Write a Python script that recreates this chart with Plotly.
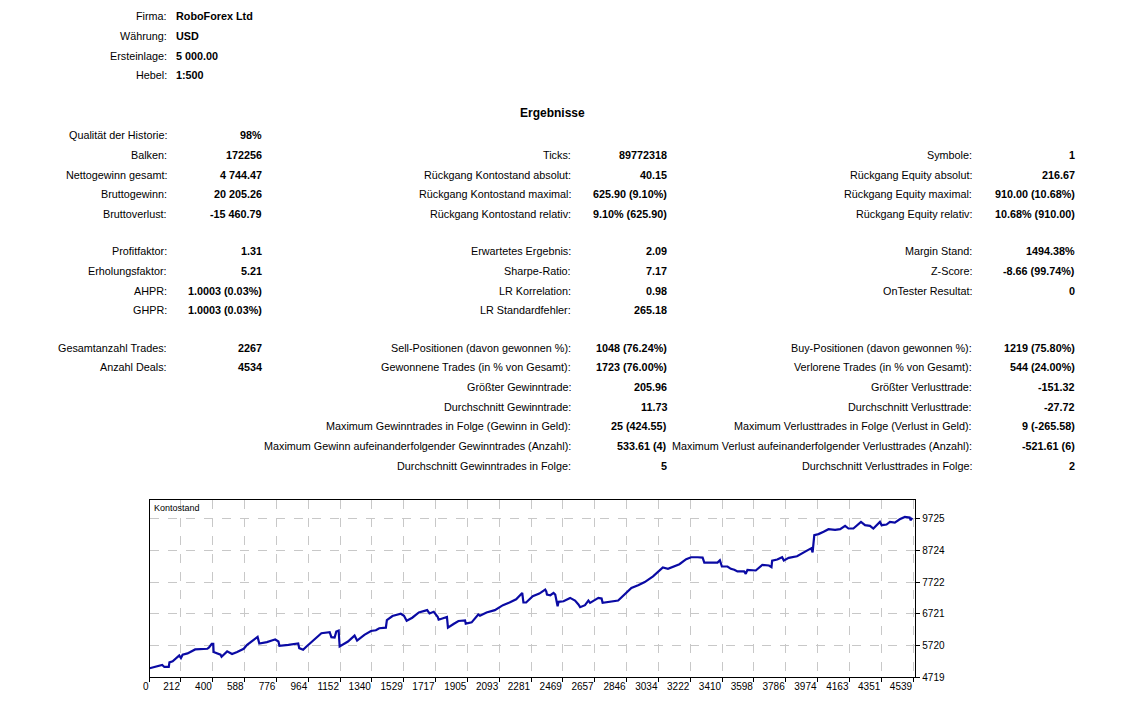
import plotly.graph_objects as go

# --- Kopfdaten ---
header_labels = ["Firma:", "Währung:", "Ersteinlage:", "Hebel:"]
header_values = ["RoboForex Ltd", "USD", "5 000.00", "1:500"]

# --- Ergebnisse, drei Spalten (Zeilenindex, Label, Wert) ---
col1_rows = [0, 1, 2, 3, 4, 5, 6, 7, 8, 9, 10]
col1_labels = ["Qualität der Historie:", "Balken:", "Nettogewinn gesamt:", "Bruttogewinn:",
               "Bruttoverlust:", "Profitfaktor:", "Erholungsfaktor:", "AHPR:", "GHPR:",
               "Gesamtanzahl Trades:", "Anzahl Deals:"]
col1_values = ["98%", "172256", "4 744.47", "20 205.26", "-15 460.79", "1.31", "5.21",
               "1.0003 (0.03%)", "1.0003 (0.03%)", "2267", "4534"]

col2_rows = [1, 2, 3, 4, 5, 6, 7, 8, 9, 10, 11, 12, 13, 14, 15]
col2_labels = ["Ticks:", "Rückgang Kontostand absolut:", "Rückgang Kontostand maximal:",
               "Rückgang Kontostand relativ:", "Erwartetes Ergebnis:", "Sharpe-Ratio:",
               "LR Korrelation:", "LR Standardfehler:", "Sell-Positionen (davon gewonnen %):",
               "Gewonnene Trades (in % von Gesamt):", "Größter Gewinntrade:",
               "Durchschnitt Gewinntrade:", "Maximum Gewinntrades in Folge (Gewinn in Geld):",
               "Maximum Gewinn aufeinanderfolgender Gewinntrades (Anzahl):",
               "Durchschnitt Gewinntrades in Folge:"]
col2_values = ["89772318", "40.15", "625.90 (9.10%)", "9.10% (625.90)", "2.09", "7.17", "0.98",
               "265.18", "1048 (76.24%)", "1723 (76.00%)", "205.96", "11.73", "25 (424.55)",
               "533.61 (4)", "5"]

col3_rows = [1, 2, 3, 4, 5, 6, 7, 9, 10, 11, 12, 13, 14, 15]
col3_labels = ["Symbole:", "Rückgang Equity absolut:", "Rückgang Equity maximal:",
               "Rückgang Equity relativ:", "Margin Stand:", "Z-Score:", "OnTester Resultat:",
               "Buy-Positionen (davon gewonnen %):", "Verlorene Trades (in % von Gesamt):",
               "Größter Verlusttrade:", "Durchschnitt Verlusttrade:",
               "Maximum Verlusttrades in Folge (Verlust in Geld):",
               "Maximum Verlust aufeinanderfolgender Verlusttrades (Anzahl):",
               "Durchschnitt Verlusttrades in Folge:"]
col3_values = ["1", "216.67", "910.00 (10.68%)", "10.68% (910.00)", "1494.38%", "-8.66 (99.74%)",
               "0", "1219 (75.80%)", "544 (24.00%)", "-151.32", "-27.72", "9 (-265.58)",
               "-521.61 (6)", "2"]

# --- Kontostand-Kurve ---
deal_no = [27, 56, 101, 114, 140, 144, 163, 202, 212, 222, 251, 296, 368, 378, 394, 403, 405,
           446, 452, 485, 514, 544, 583, 603, 642, 665, 675, 720, 749, 769, 788, 794, 847, 905,
           911, 934, 954, 1003, 1042, 1091, 1101, 1120, 1130, 1144, 1150, 1199, 1238, 1253,
           1296, 1335, 1364, 1384, 1423, 1429, 1462, 1511, 1530, 1546, 1579, 1618, 1667, 1681,
           1706, 1729, 1735, 1784, 1790, 1823, 1852, 1891, 1895, 1930, 1969, 1979, 2018, 2067,
           2115, 2154, 2193, 2229, 2236, 2252, 2291, 2330, 2365, 2371, 2375, 2395, 2414, 2424,
           2430, 2438, 2444, 2473, 2512, 2541, 2561, 2571, 2600, 2620, 2630, 2679, 2698, 2704,
           2796, 2835, 2874, 2914, 2953, 3002, 3031, 3060, 3090, 3129, 3158, 3198, 3227, 3266,
           3295, 3305, 3383, 3397, 3409, 3442, 3462, 3482, 3501, 3540, 3550, 3560, 3609, 3648,
           3687, 3702, 3706, 3736, 3765, 3775, 3804, 3853, 3892, 3922, 3937, 3945, 3955, 3980,
           4010, 4039, 4078, 4108, 4137, 4157, 4186, 4206, 4231, 4255, 4284, 4304, 4329, 4343,
           4353, 4382, 4402, 4431, 4460, 4490, 4519, 4525, 4534]
balance = [5000, 5032, 5105, 5042, 5042, 5188, 5220, 5407, 5324, 5428, 5470, 5595, 5616, 5658,
           5772, 5772, 5512, 5428, 5366, 5533, 5449, 5512, 5616, 5741, 5898, 5991, 5783, 5825,
           5877, 5908, 5845, 5710, 5741, 5783, 5637, 5585, 5689, 5908, 6106, 6137, 5981, 5971,
           6158, 6190, 5689, 5845, 6033, 5877, 6054, 6179, 6200, 6263, 6283, 6523, 6649, 6722,
           6659, 6503, 6596, 6763, 6836, 6732, 6784, 6628, 6534, 6617, 6283, 6398, 6492, 6513,
           6409, 6450, 6700, 6659, 6763, 6836, 6993, 7076, 7180, 7379, 7076, 7076, 7274, 7357,
           7483, 7430, 7326, 7305, 7378, 7326, 7117, 6961, 7097, 7117, 7222, 7138, 7013, 6930,
           6992, 7138, 7065, 7222, 7201, 7065, 7138, 7326, 7534, 7618, 7722, 7900, 8035, 8181,
           8140, 8233, 8285, 8442, 8505, 8505, 8494, 8338, 8338, 8411, 8213, 8213, 8140, 8108,
           8056, 8056, 7983, 8108, 8087, 8265, 8244, 8192, 8400, 8432, 8505, 8400, 8484, 8536,
           8640, 8745, 8787, 8661, 9204, 9235, 9308, 9391, 9370, 9391, 9496, 9412, 9412, 9516,
           9621, 9516, 9496, 9412, 9569, 9621, 9516, 9537, 9621, 9600, 9704, 9777, 9756, 9673,
           9744]

x_ticks = [27, 212, 400, 588, 776, 964, 1152, 1340, 1529, 1717, 1905, 2093, 2281, 2469, 2657,
           2846, 3034, 3222, 3410, 3598, 3786, 3974, 4163, 4351, 4539]
x_tick_text = ["0", "212", "400", "588", "776", "964", "1152", "1340", "1529", "1717", "1905",
               "2093", "2281", "2469", "2657", "2846", "3034", "3222", "3410", "3598", "3786",
               "3974", "4163", "4351", "4539"]
y_ticks = [4719, 5720, 6721, 7722, 8724, 9725]

# Seite hat 8px Body-Rand -> Figur kleiner, damit nichts ueberlaeuft
PAGE_MARGIN = 8
W, H = 1130 - 2 * PAGE_MARGIN, 698
FONT = "Liberation Sans"


def px_x(v):
    return (v - PAGE_MARGIN) / W


def px_y(v):
    return 1 - (v - PAGE_MARGIN) / H


row_y = [136, 156, 176, 196, 216, 253, 273, 293, 313, 351, 370, 390, 410, 430, 450, 470]

annotations = []


def add_text(x, y, text, anchor, bold=False, size=10.8):
    annotations.append(dict(
        x=px_x(x), y=px_y(y), xref="paper", yref="paper", text=f"<b>{text}</b>" if bold else text,
        showarrow=False, xanchor=anchor, yanchor="middle", borderpad=0,
        font=dict(family=FONT, size=size, color="#000000"),
    ))


for i, (lab, val) in enumerate(zip(header_labels, header_values)):
    add_text(162, 16 + 20 * i, lab, "right")
    add_text(169, 16 + 20 * i, val, "left", bold=True)

add_text(549, 114, "Ergebnisse", "center", bold=True, size=12)

for rows, labs, vals, lx, vx in [(col1_rows, col1_labels, col1_values, 162, 258),
                                 (col2_rows, col2_labels, col2_values, 569, 665),
                                 (col3_rows, col3_labels, col3_values, 972, 1076)]:
    for r, lab, val in zip(rows, labs, vals):
        add_text(lx, row_y[r], lab, "right")
        add_text(vx, row_y[r], val, "right", bold=True)

# Diagrammtitel im Plotbereich
add_text(147, 512, "Kontostand", "left", size=9)

fig = go.Figure()
fig.add_trace(go.Scatter(
    x=deal_no, y=balance, mode="lines",
    line=dict(color="#0a0aa4", width=2.2),
    hoverinfo="x+y", showlegend=False,
))

fig.update_layout(
    width=W, height=H,
    margin=dict(l=0, r=0, t=0, b=0),
    paper_bgcolor="white", plot_bgcolor="white",
    annotations=annotations,
    showlegend=False,
    xaxis=dict(
        domain=[px_x(143.5), px_x(914)],
        range=[27, 4552],
        tickvals=x_ticks, ticktext=x_tick_text,
        ticks="outside", ticklen=4, tickcolor="#000000",
        ticklabelposition="outside left",
        tickfont=dict(family=FONT, size=10, color="#000000"),
        showgrid=True, gridcolor="#c8c8c8", griddash="dash", gridwidth=1,
        showline=True, linecolor="#000000", linewidth=1, mirror=True,
        zeroline=False, fixedrange=True,
    ),
    yaxis=dict(
        domain=[px_y(683), px_y(504)],
        range=[4719, 10320],
        side="right",
        tickvals=y_ticks,
        ticks="outside", ticklen=4, tickcolor="#000000",
        tickfont=dict(family=FONT, size=10, color="#000000"),
        showgrid=True, gridcolor="#c8c8c8", griddash="dash", gridwidth=1,
        showline=True, linecolor="#000000", linewidth=1, mirror=True,
        zeroline=False, fixedrange=True,
    ),
)

fig.write_html("out.html")
